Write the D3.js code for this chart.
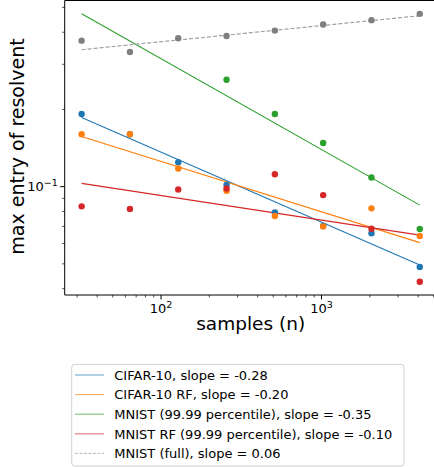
<!DOCTYPE html>
<html>
<head>
<meta charset="utf-8">
<script src="https://cdn.jsdelivr.net/npm/d3@7"></script>
<style>
  body { margin: 0; background: #fff; }
  svg { display: block; font-family: "DejaVu Sans", sans-serif; }
</style>
</head>
<body>
<div id="chart"></div>
<script>
// sample sizes on the x axis
var samples = [32, 64, 128, 256, 512, 1024, 2048, 4096];

// measured points (null = outside the visible range)
var cifar = [0.192, 0.160, 0.1245, 0.1016, 0.0794, 0.0702, 0.0658, 0.0486];
var cifarRF = [0.160, 0.160, 0.1177, 0.0963, 0.0768, 0.0700, 0.0823, 0.0642];
var mnist = [null, null, null, 0.261, 0.192, 0.148, 0.1086, 0.0684];
var mnistRF = [0.0838, 0.0818, 0.0975, 0.0984, 0.1118, 0.0927, 0.0685, 0.0426];
var mnistFull = [0.371, 0.335, 0.379, 0.387, 0.406, 0.429, 0.446, 0.472];

// fitted lines: value at n=32 and at n=4096
var fitStart = [0.186, 0.157, 0.472, 0.103, 0.342];
var fitEnd = [0.0495, 0.0605, 0.0847, 0.0647, 0.464];

var labels = [
  "CIFAR-10, slope = -0.28",
  "CIFAR-10 RF, slope = -0.20",
  "MNIST (99.99 percentile), slope = -0.35",
  "MNIST RF (99.99 percentile), slope = -0.10",
  "MNIST (full), slope = 0.06"
];

var series = [cifar, cifarRF, mnist, mnistRF, mnistFull];
var colors = ["#1f77b4", "#ff7f0e", "#2ca02c", "#d62728", "#7f7f7f"];
var lineColors = ["#1f77b4", "#ff7f0e", "#2ca02c", "#d62728", "#9a9a9a"];

var W = 434, H = 467;
var margin = {top: 0.5, left: 64.7, bottom: 295};
var plotRight = 436.7;

var svg = d3.select("#chart").append("svg")
  .attr("width", W).attr("height", H);

var x = d3.scaleLog().domain([25.1, 5222]).range([margin.left, plotRight]);
var y = d3.scaleLog().domain([0.0378, 0.532]).range([margin.bottom, margin.top]);

svg.append("clipPath").attr("id", "clip")
  .append("rect")
  .attr("x", margin.left).attr("y", margin.top)
  .attr("width", plotRight - margin.left).attr("height", margin.bottom - margin.top);

var plot = svg.append("g").attr("clip-path", "url(#clip)");

// fit lines
series.forEach(function(s, i) {
  plot.append("line")
    .attr("x1", x(samples[0])).attr("y1", y(fitStart[i]))
    .attr("x2", x(samples[samples.length - 1])).attr("y2", y(fitEnd[i]))
    .attr("stroke", lineColors[i])
    .attr("stroke-width", 1.1)
    .attr("stroke-dasharray", i == 4 ? "4,2" : null);
});

// points
series.forEach(function(s, i) {
  plot.selectAll(".pt" + i)
    .data(samples.map(function(n, j) { return {n: n, v: s[j]}; }).filter(function(d) { return d.v != null; }))
    .enter().append("circle")
    .attr("cx", function(d) { return x(d.n); })
    .attr("cy", function(d) { return y(d.v); })
    .attr("r", 3.2)
    .attr("fill", colors[i]);
});

// spines
svg.append("line").attr("x1", margin.left).attr("x2", plotRight)
  .attr("y1", margin.bottom).attr("y2", margin.bottom).attr("stroke", "#000").attr("stroke-width", 1);
svg.append("line").attr("x1", margin.left).attr("x2", plotRight)
  .attr("y1", margin.top).attr("y2", margin.top).attr("stroke", "#000").attr("stroke-width", 1);
svg.append("line").attr("x1", margin.left).attr("x2", margin.left)
  .attr("y1", margin.top).attr("y2", margin.bottom).attr("stroke", "#000").attr("stroke-width", 1);

// x ticks
var xTicks = x.ticks();
var xAxis = svg.append("g");
xTicks.forEach(function(t) {
  var major = Math.abs(Math.log10(t) - Math.round(Math.log10(t))) < 1e-9;
  xAxis.append("line")
    .attr("x1", x(t)).attr("x2", x(t))
    .attr("y1", margin.bottom).attr("y2", margin.bottom + (major ? 4.5 : 2.5))
    .attr("stroke", "#000").attr("stroke-width", major ? 1 : 0.7);
  if (major) {
    var txt = xAxis.append("text")
      .attr("x", x(t)).attr("y", margin.bottom + 18)
      .attr("text-anchor", "middle").attr("font-size", 13);
    txt.append("tspan").text("10");
    txt.append("tspan").attr("dy", -5).attr("font-size", 9.5).text(Math.round(Math.log10(t)));
  }
});

// y ticks
var yTicks = y.ticks();
var yAxis = svg.append("g");
yTicks.forEach(function(t) {
  var major = Math.abs(Math.log10(t) - Math.round(Math.log10(t))) < 1e-9;
  yAxis.append("line")
    .attr("x1", margin.left).attr("x2", margin.left - (major ? 4.5 : 2.5))
    .attr("y1", y(t)).attr("y2", y(t))
    .attr("stroke", "#000").attr("stroke-width", major ? 1 : 0.7);
  if (major) {
    var txt = yAxis.append("text")
      .attr("x", margin.left - 7).attr("y", y(t) + 4.5)
      .attr("text-anchor", "end").attr("font-size", 13);
    txt.append("tspan").text("10");
    txt.append("tspan").attr("dy", -5).attr("font-size", 9.5).text("\u22121");
  }
});

// axis labels
svg.append("text")
  .attr("x", (margin.left + plotRight) / 2).attr("y", 330)
  .attr("text-anchor", "middle").attr("font-size", 18.5)
  .text("samples (n)");

svg.append("text")
  .attr("transform", "translate(23.5,146.5) rotate(-90)")
  .attr("text-anchor", "middle").attr("font-size", 19)
  .text("max entry of resolvent");

// legend
var legend = svg.append("g");
legend.append("rect")
  .attr("x", 71.7).attr("y", 364.3)
  .attr("width", 332.3).attr("height", 101.7)
  .attr("rx", 3)
  .attr("fill", "#fff").attr("stroke", "#d0d0d0").attr("stroke-width", 1);

labels.forEach(function(l, i) {
  var ly = 375 + i * 19.6;
  legend.append("line")
    .attr("x1", 75).attr("x2", 104)
    .attr("y1", ly).attr("y2", ly)
    .attr("stroke", lineColors[i])
    .attr("stroke-opacity", 0.7)
    .attr("stroke-width", 1)
    .attr("stroke-dasharray", i == 4 ? "3,1.5" : null);
  legend.append("text")
    .attr("x", 114.3).attr("y", ly + 4.7)
    .attr("font-size", 13)
    .text(l);
});
</script>
</body>
</html>
